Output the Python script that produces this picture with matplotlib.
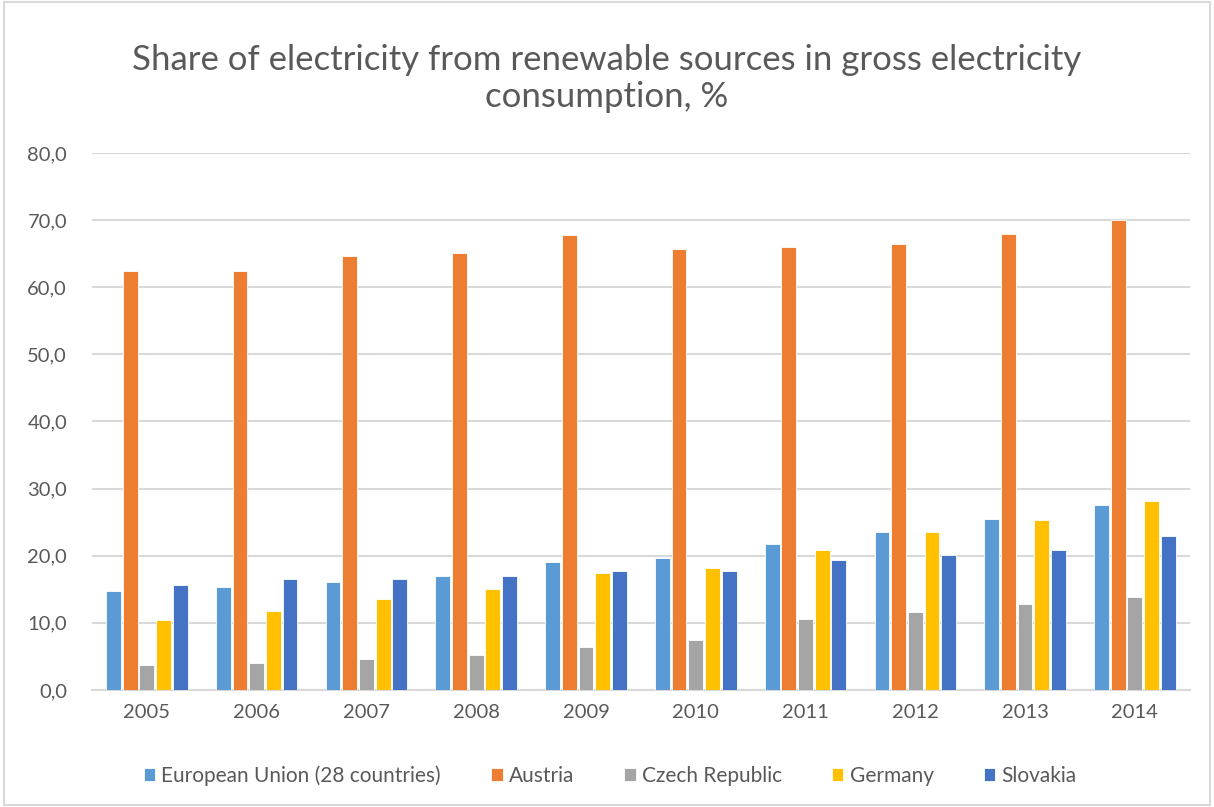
import numpy as np
import matplotlib.pyplot as plt
from matplotlib.ticker import FuncFormatter
from matplotlib.patches import Rectangle

years = ['2005', '2006', '2007', '2008', '2009', '2010', '2011', '2012', '2013', '2014']
eu28 = [14.8, 15.3, 16.1, 17.0, 19.0, 19.7, 21.7, 23.5, 25.4, 27.5]
austria = [62.4, 62.4, 64.6, 65.1, 67.8, 65.7, 66.0, 66.5, 68.0, 70.0]
czech = [3.7, 4.0, 4.6, 5.2, 6.4, 7.5, 10.6, 11.6, 12.8, 13.9]
germany = [10.5, 11.8, 13.6, 15.1, 17.4, 18.1, 20.9, 23.6, 25.3, 28.2]
slovakia = [15.7, 16.6, 16.5, 17.0, 17.8, 17.8, 19.3, 20.1, 20.8, 23.0]

series = [
    ('European Union (28 countries)', eu28, '#5b9bd5'),
    ('Austria', austria, '#ed7d31'),
    ('Czech Republic', czech, '#a5a5a5'),
    ('Germany', germany, '#ffc000'),
    ('Slovakia', slovakia, '#4472c4'),
]

plt.rcParams['font.family'] = ['Lato', 'DejaVu Sans']
txt = '#595959'

fig = plt.figure(figsize=(12.14, 8.07), dpi=100)
ax = fig.add_axes([0.0758, 0.145, 0.9042, 0.6654])

x = np.arange(len(years))
step = 0.152
width = 0.135
for i, (name, vals, col) in enumerate(series):
    ax.bar(x + (i - 2) * step, vals, width, color=col, label=name,
           edgecolor='white', linewidth=0.6, zorder=3)

ax.set_xlim(-0.5, len(years) - 0.5)
ax.set_ylim(0, 80)
ax.set_yticks(np.arange(0, 81, 10))
ax.yaxis.set_major_formatter(FuncFormatter(lambda v, p: f'{v:.1f}'.replace('.', ',')))
ax.set_xticks(x)
ax.set_xticklabels(years)
ax.grid(axis='y', color='#d9d9d9', linewidth=1.5, zorder=0)
for s in ['top', 'right', 'left']:
    ax.spines[s].set_visible(False)
ax.spines['bottom'].set_color('#d9d9d9')
ax.spines['bottom'].set_linewidth(1.5)
ax.tick_params(length=0, labelsize=14.5, colors=txt, pad=10)
ax.tick_params(axis='y', pad=18)

fig.text(0.5, 0.903, 'Share of electricity from renewable sources in gross electricity\nconsumption, %',
         ha='center', va='center', fontsize=25, color=txt, linespacing=1.2)

leg = ax.legend(loc='upper center', bbox_to_anchor=(0.472, -0.105), ncol=5, frameon=False,
                fontsize=15, handlelength=0.55, handleheight=0.55, handletextpad=0.3,
                columnspacing=2.4)
for t in leg.get_texts():
    t.set_color(txt)

fig.patches.append(Rectangle((0.003, 0.003), 0.994, 0.994, transform=fig.transFigure,
                             fill=False, edgecolor='#d9d9d9', linewidth=1.5))

fig.savefig('out.png', dpi=100)
